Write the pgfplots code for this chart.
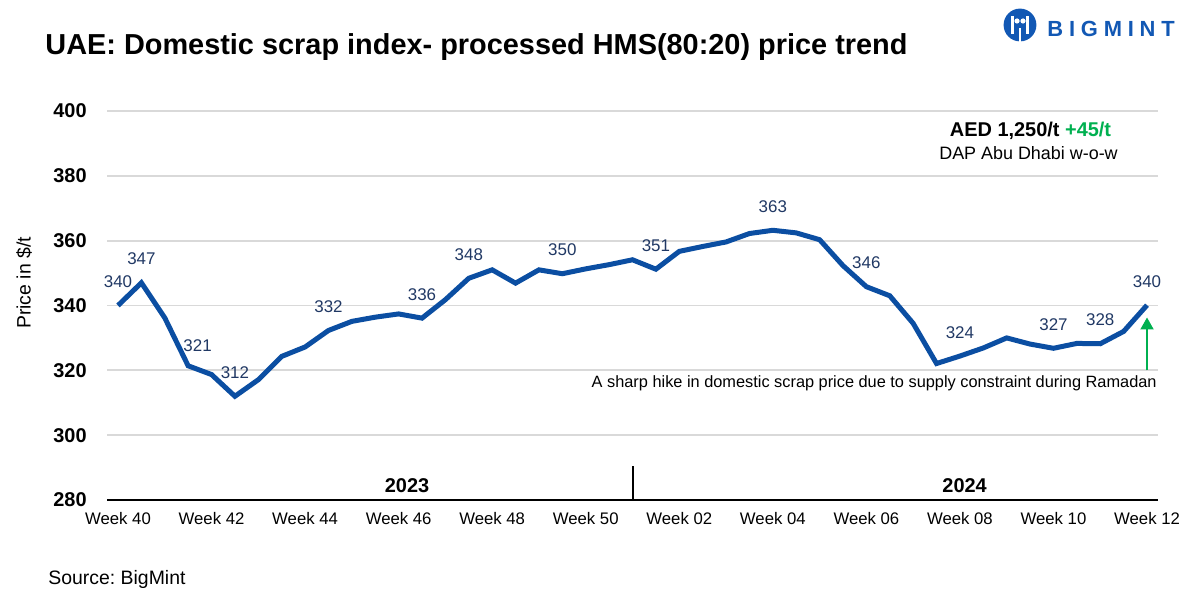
\documentclass[border=0pt]{standalone}
\usepackage{fontspec}
\setmainfont{Liberation Sans}
\usepackage{pgfplots}
\pgfplotsset{compat=1.18}
\usetikzlibrary{arrows.meta}
\definecolor{lineblue}{HTML}{0B4EA2}
\definecolor{labnavy}{HTML}{203864}
\definecolor{gridgray}{HTML}{D9D9D9}
\definecolor{upgreen}{HTML}{00B050}
\definecolor{logoblue}{HTML}{1258B4}
\frenchspacing

\pgfplotstableread{
x y
0 340
1 347
2 336.2
3 321.4
4 318.7
5 312
6 317.1
7 324.3
8 327.2
9 332.3
10 335.1
11 336.4
12 337.4
13 336.1
14 341.8
15 348.4
16 351
17 346.9
18 351
19 349.8
20 351.3
21 352.6
22 354.1
23 351.2
24 356.7
25 358.2
26 359.6
27 362.2
28 363.2
29 362.4
30 360.3
31 352.3
32 345.8
33 343
34 334.5
35 322.1
36 324.4
37 326.9
38 330
39 328.1
40 326.8
41 328.3
42 328.2
43 332
44 340.1
}\pricedata

\pgfplotstableread{
x y lab
0 340 340
1 347 347
5 312 312
9 332.3 332
13 336.1 336
15 348.4 348
19 349.8 350
23 351.2 351
28 363.2 363
32 345.8 346
36 324.4 324
40 326.8 327
42 328.2 328
44 340.1 340
}\labdata

\begin{document}
\begin{tikzpicture}
\path[use as bounding box] (0,0) rectangle (600bp,300bp);
\begin{axis}[
  at={(53.5bp,50bp)}, anchor=south west,
  scale only axis, width=525.5bp, height=194.5bp,
  xmin=-0.47, xmax=44.47, ymin=280, ymax=400,
  clip=false,
  /pgf/number format/assume math mode=true,
  axis x line*=bottom, axis y line*=left,
  x axis line style={black, line width=1bp, -},
  y axis line style={draw=none},
  major tick length=0pt,
  ytick={280,300,...,400},
  ymajorgrids, grid style={gridgray, line width=0.9bp},
  yticklabel style={font=\bfseries\fontsize{10}{12}\selectfont, anchor=east, inner sep=0pt, xshift=-10bp},
  xtick={0,4,...,44},
  xticklabels={Week 40,Week 42,Week 44,Week 46,Week 48,Week 50,Week 02,Week 04,Week 06,Week 08,Week 10,Week 12},
  xticklabel style={font=\fontsize{8.4}{10}\selectfont, anchor=base, inner sep=0pt, yshift=-12.5bp},
]
\addplot[lineblue, line width=2.5bp, mark=none] table[x=x,y=y] {\pricedata};
\addplot[draw=none, mark=none, nodes near coords, point meta=explicit symbolic,
  every node near coord/.style={anchor=base, inner sep=0pt, yshift=9bp, font=\fontsize{8.5}{10}\selectfont, text=labnavy}]
  table[x=x,y=y,meta=lab] {\labdata};
\addplot[draw=none, mark=none, nodes near coords, point meta=explicit symbolic,
  every node near coord/.style={anchor=base, inner sep=0pt, xshift=4.7bp, yshift=6.9bp, font=\fontsize{8.5}{10}\selectfont, text=labnavy}]
  coordinates {(3,321.4) [321]};
\draw[upgreen, line width=1bp, -{Triangle[length=6bp,width=6.5bp]}] (axis cs:44,320) -- (axis cs:44,336.3);
\draw[black, line width=1bp] (axis cs:22,280) -- (axis cs:22,290.5);
\node[anchor=base, inner sep=0pt, font=\bfseries\fontsize{10}{12}\selectfont] at (axis cs:12.36,282.3) {2023};
\node[anchor=base, inner sep=0pt, font=\bfseries\fontsize{10}{12}\selectfont] at (axis cs:36.2,282.3) {2024};
\end{axis}
% title
\node[anchor=base west, inner sep=0pt, font=\bfseries\fontsize{14.5}{17}\selectfont] at (22.5bp,272.5bp) {UAE: Domestic scrap index- processed HMS(80:20) price trend};
% y label
\node[rotate=90, inner sep=0pt, font=\fontsize{9.75}{11}\selectfont] at (12bp,158.5bp) {Price in \$/t};
% source
\node[anchor=base west, inner sep=0pt, font=\fontsize{9.75}{11}\selectfont] at (24bp,8bp) {Source: BigMint};
% annotation
\node[anchor=base, inner sep=0pt, font=\bfseries\fontsize{10}{11}\selectfont] at (515.25bp,231.5bp) {AED 1,250/t \textcolor{upgreen}{+45/t}};
\node[anchor=base, inner sep=0pt, font=\fontsize{9}{11}\selectfont] at (514.25bp,220bp) {DAP Abu Dhabi w-o-w};
\node[anchor=base east, inner sep=0pt, font=\fontsize{8.2}{10}\selectfont] at (578.5bp,106bp) {A sharp hike in domestic scrap price due to supply constraint during Ramadan};
% logo
\fill[logoblue] (510bp,287.5bp) circle (8.2bp);
\fill[white] (505.5bp,283bp) rectangle (506.8bp,292bp);
\fill[white] (513.2bp,283bp) rectangle (514.5bp,292bp);
\fill[white] (508.5bp,289.5bp) circle (1.3bp);
\fill[white] (511.5bp,289.5bp) circle (1.3bp);
\fill[white] (509.6bp,279bp) rectangle (510.4bp,286bp);
\node[anchor=base west, inner sep=0pt, text=logoblue, font=\bfseries\fontsize{11}{12}\selectfont] at (523.5bp,281.5bp) {B\hspace{2.9bp}I\hspace{2.9bp}G\hspace{2.9bp}M\hspace{2.9bp}I\hspace{2.9bp}N\hspace{2.9bp}T};
\end{tikzpicture}
\end{document}
